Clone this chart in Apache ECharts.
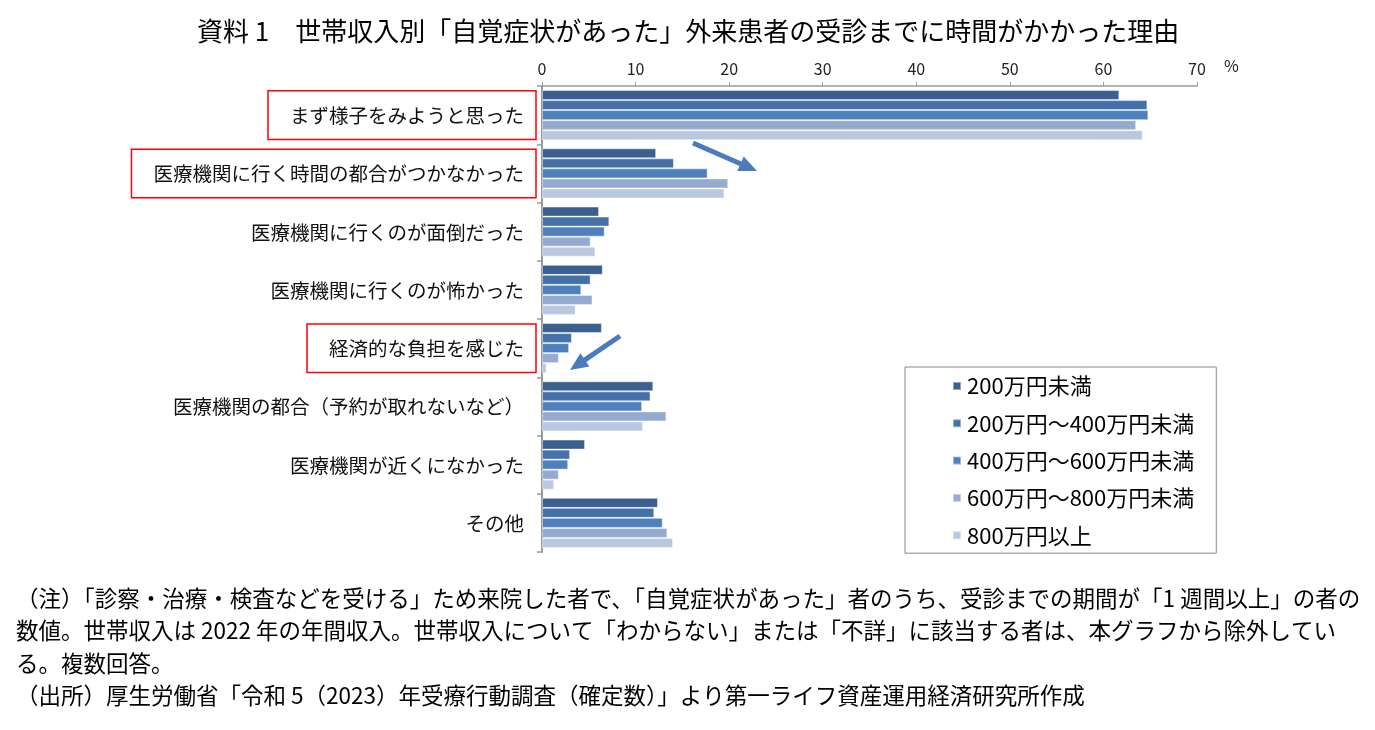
<!DOCTYPE html>
<html><head><meta charset="utf-8">
<script src="https://cdn.jsdelivr.net/npm/echarts@6/dist/echarts.min.js"></script>
<style>html,body{margin:0;padding:0;background:#fff}#c{width:1375px;height:730px}</style>
</head><body><div id="c"></div>
<script>
const categories = [
  'まず様子をみようと思った',
  '医療機関に行く時間の都合がつかなかった',
  '医療機関に行くのが面倒だった',
  '医療機関に行くのが怖かった',
  '経済的な負担を感じた',
  '医療機関の都合（予約が取れないなど）',
  '医療機関が近くになかった',
  'その他'
];
const highlighted = ['まず様子をみようと思った','医療機関に行く時間の都合がつかなかった','経済的な負担を感じた'];
const seriesNames = ['200万円未満','200万円～400万円未満','400万円～600万円未満','600万円～800万円未満','800万円以上'];
const under200   = [61.7, 12.2, 6.1, 6.5, 6.4, 11.9, 4.6, 12.4];
const from200    = [64.7, 14.1, 7.2, 5.2, 3.2, 11.6, 3.0, 12.0];
const from400    = [64.8, 17.7, 6.7, 4.2, 2.9, 10.7, 2.8, 12.9];
const from600    = [63.5, 19.9, 5.2, 5.4, 1.8, 13.3, 1.8, 13.4];
const over800    = [64.2, 19.5, 5.7, 3.6, 0.5, 10.8, 1.3, 14.0];
const seriesValues = [under200, from200, from400, from600, over800];
const xTicks = {min: 0, max: 70, interval: 10};
const xUnit = '%';
const colors = ['#3b5f8e', '#4472a8', '#4d80bd', '#94aad1', '#b9c7e0'];
const titleText = '資料 1\u3000世帯収入別「自覚症状があった」外来患者の受診までに時間がかかった理由';
const noteLines = [
  '（注）「診察・治療・検査などを受ける」ため来院した者で、「自覚症状があった」者のうち、受診までの期間が「1 週間以上」の者の',
  '数値。世帯収入は 2022 年の年間収入。世帯収入について「わからない」または「不詳」に該当する者は、本グラフから除外してい',
  'る。複数回答。',
  '（出所）厚生労働省「令和 5（2023）年受療行動調査（確定数）」より第一ライフ資産運用経済研究所作成'
];

const FONT = '"Noto Sans CJK JP", "Noto Sans", sans-serif';

function arrowPoints(x1, y1, x2, y2, w, hw, hl) {
  const dx = x2 - x1, dy = y2 - y1, L = Math.hypot(dx, dy);
  const ux = dx / L, uy = dy / L, nx = -uy, ny = ux;
  const bx = x2 - ux * hl, by = y2 - uy * hl;
  return [
    [x1 + nx * w / 2, y1 + ny * w / 2],
    [bx + nx * w / 2, by + ny * w / 2],
    [bx + nx * hw / 2, by + ny * hw / 2],
    [x2, y2],
    [bx - nx * hw / 2, by - ny * hw / 2],
    [bx - nx * w / 2, by - ny * w / 2],
    [x1 - nx * w / 2, y1 - ny * w / 2]
  ];
}

const chart = echarts.init(document.getElementById('c'));
const graphics = [];
noteLines.forEach((t, i) => {
  graphics.push({
    type: 'text', left: 16, top: 587 + i * 32.5,
    style: { text: t, font: '22.5px ' + FONT, fill: '#000' }
  });
});
graphics.push({ type: 'text', left: 1224, top: 58, style: { text: xUnit, font: '16px ' + FONT, fill: '#222' } });
graphics.push({ type: 'polygon', shape: { points: arrowPoints(693, 143, 757, 171, 5, 16, 18) }, style: { fill: '#4a7bbd' } });
graphics.push({ type: 'polygon', shape: { points: arrowPoints(620, 336, 570, 370, 5, 16, 18) }, style: { fill: '#4a7bbd' } });

chart.setOption({
  backgroundColor: '#fff',
  animation: false,
  textStyle: { fontFamily: FONT },
  title: {
    text: titleText, left: 192, top: 13,
    textStyle: { fontSize: 26, fontWeight: 'normal', color: '#000', fontFamily: FONT }
  },
  legend: {
    orient: 'vertical', left: 905, top: 367,
    padding: [7, 22, 6, 47],
    borderColor: '#888', borderWidth: 1,
    itemWidth: 8, itemHeight: 8, itemGap: 13.3, icon: 'rect',
    textStyle: { fontSize: 22, color: '#000', lineHeight: 24, padding: [0, 0, 0, 1] },
    data: seriesNames
  },
  grid: { left: 542, right: 178, top: 86, bottom: 178 },
  xAxis: {
    type: 'value', position: 'top', min: xTicks.min, max: xTicks.max, interval: xTicks.interval,
    axisLine: { show: true, lineStyle: { color: '#999', width: 1.5 } },
    axisTick: { show: true, length: 4, lineStyle: { color: '#999' } },
    axisLabel: { fontSize: 16, color: '#222', margin: 9 },
    splitLine: { show: false }
  },
  yAxis: {
    type: 'category', inverse: true, data: categories,
    axisLine: { show: true, lineStyle: { color: '#999', width: 2 } },
    axisTick: { show: true, length: 5, lineStyle: { color: '#999', width: 1.5 } },
    axisLabel: {
      margin: 6, fontSize: 19.5, color: '#111',
      formatter: v => (highlighted.includes(v) ? '{b|' + v + '}' : '{n|' + v + '}'),
      rich: {
        b: { fontSize: 19.5, color: '#111', borderColor: '#ff0000', borderWidth: 1.5, padding: [15, 12, 14, 22] },
        n: { fontSize: 19.5, color: '#111', padding: [15, 12, 14, 22] }
      }
    }
  },
  series: seriesNames.map((n, i) => ({
    name: n, type: 'bar', data: seriesValues[i],
    barGap: '0%', barCategoryGap: '14%',
    itemStyle: { color: colors[i], borderColor: 'rgba(255,255,255,0.45)', borderWidth: 1 }
  })),
  graphic: graphics
});
</script>
</body></html>
